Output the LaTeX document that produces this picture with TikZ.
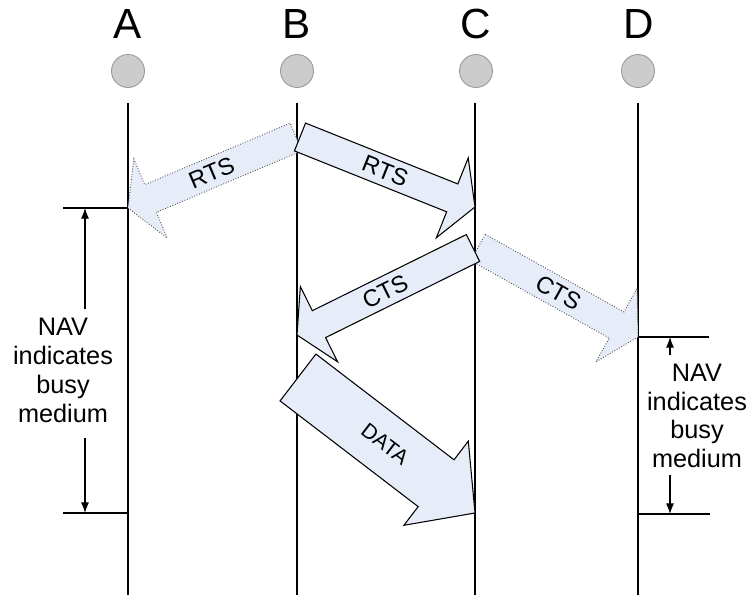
\documentclass[tikz,border=0pt]{standalone}
\usepackage{fontspec}
\setmainfont{Liberation Sans}
\usetikzlibrary{calc, arrows.meta}

\definecolor{framefill}{RGB}{230,236,248}
\definecolor{stationgray}{RGB}{204,204,204}

\tikzset{
  station/.style = {circle, draw = gray!80, fill = stationgray, line width = 0.5pt, minimum size = 0.66cm, inner sep = 0pt},
  lifeline/.style = {black, line width = 0.75pt},
  sent/.style = {draw = black, fill = framefill, line width = 0.6pt, line join = miter},
  heard/.style = {draw = gray!60!black, fill = framefill, line width = 0.5pt, densely dotted},
  navline/.style = {black, line width = 0.8pt},
  navarrow/.style = {-{Latex[length = 6pt, width = 4.5pt]}, line width = 0.6pt},
  navtext/.style = {align = center, font = \fontsize{14.4}{16.4}\selectfont, inner sep = 0pt},
  msgtext/.style = {font = \fontsize{13.5}{15}\selectfont, inner sep = 0pt},
  stationname/.style = {anchor = base, font = \fontsize{24}{28}\selectfont},
}

% block arrow: name, style, tail, tip, half shaft, half head, head length, text, text pos
\newcommand{\blockarrow}[9]{
  \coordinate (#1n) at ($(#4)!#7!(#3)$);
  \draw[#2] ($(#3)!#5!90:(#4)$) -- ($(#1n)!#5!90:(#4)$) -- ($(#1n)!#6!90:(#4)$) -- (#4)
    -- ($(#1n)!#6!-90:(#4)$) -- ($(#1n)!#5!-90:(#4)$) -- ($(#3)!#5!-90:(#4)$) -- cycle;
  \path (#3) -- (#1n) node[pos = #9, sloped, msgtext] (#1) {#8};
}
\newcommand{\datasize}{\fontsize{12}{14}\selectfont}

\begin{document}
\begin{tikzpicture} [x = 0.02cm, y = 0.02cm]
\useasboundingbox (0, 0) rectangle (752, 595);

% stations
\node[stationname] (nameA) at (128, 556) {A};
\node[stationname] (nameB) at (297, 556) {B};
\node[stationname] (nameC) at (476, 556) {C};
\node[stationname] (nameD) at (639, 556) {D};
\node[station] (stA) at (128, 524) {};
\node[station] (stB) at (297, 524) {};
\node[station] (stC) at (476, 524) {};
\node[station] (stD) at (638, 524) {};

\draw[lifeline] (128, 492) -- (128, 0);
\draw[lifeline] (297, 492) -- (297, 0);
\draw[lifeline] (475, 492) -- (475, 0);
\draw[lifeline] (638, 492) -- (638, 0);

% frame ends
\coordinate (rtsTa) at (296, 458);
\coordinate (rtsTc) at (300, 458);
\coordinate (rtsA) at (128, 387);
\coordinate (rtsC) at (475, 388);
\coordinate (ctsTb) at (473, 347);
\coordinate (ctsTd) at (478, 347.5);
\coordinate (ctsB) at (297, 260);
\coordinate (ctsD) at (638, 258);
\coordinate (dataT) at (298, 217.5);
\coordinate (dataC) at (475, 82);

% RTS, CTS and DATA
\blockarrow{rtsBA}{heard}{rtsTa}{rtsA}{0.3cm}{0.86cm}{0.49cm}{RTS}{0.58}
\blockarrow{rtsBC}{sent}{rtsTc}{rtsC}{0.3cm}{0.86cm}{0.49cm}{RTS}{0.56}
\blockarrow{ctsCD}{heard}{ctsTd}{ctsD}{0.3cm}{0.84cm}{0.49cm}{CTS}{0.58}
\blockarrow{ctsCB}{sent}{ctsTb}{ctsB}{0.3cm}{0.84cm}{0.49cm}{CTS}{0.57}
\blockarrow{dataBC}{sent}{dataT}{dataC}{0.59cm}{1.06cm}{0.98cm}{\datasize DATA}{0.63}

% NAV at A
\coordinate (navA1) at (63, 387);
\coordinate (navA2) at (63, 82);
\coordinate (navA1a) at (85, 286);
\coordinate (navA2a) at (85, 157);
\node[navtext] (navA) at (63, 224.5) {NAV\\indicates\\busy\\medium};
\draw[navline] (navA1) -- (navA1 -| stA);
\draw[navline] (navA2) -- (navA2 -| stA);
\draw[navarrow] (navA1a) -- (navA1a |- navA1);
\draw[navarrow] (navA2a) -- (navA2a |- navA2);

% NAV at D
\coordinate (navD1) at (709, 258);
\coordinate (navD2) at (710, 81);
\coordinate (navD1a) at (670, 240);
\coordinate (navD2a) at (670, 120);
\node[navtext] (navD) at (697, 179) {NAV\\indicates\\busy\\medium};
\draw[navline] (navD1) -- (navD1 -| stD);
\draw[navline] (navD2) -- (navD2 -| stD);
\draw[navarrow] (navD1a) -- (navD1a |- navD1);
\draw[navarrow] (navD2a) -- (navD2a |- navD2);
\end{tikzpicture}
\end{document}
